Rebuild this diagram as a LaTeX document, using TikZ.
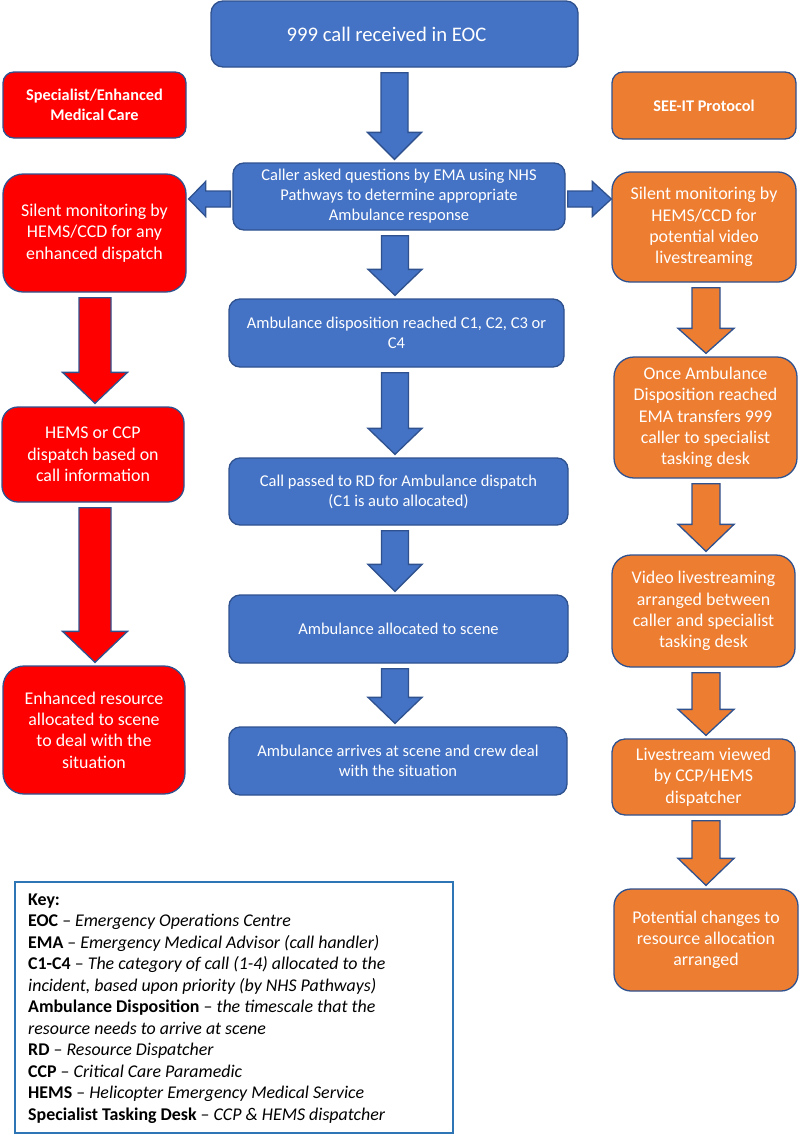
\documentclass[tikz,border=0pt]{standalone}
\usepackage{fontspec}
\setmainfont{Carlito}
\usetikzlibrary{calc}
\definecolor{cblue}{HTML}{4472C4}
\definecolor{cborder}{HTML}{2F528F}
\definecolor{cred}{HTML}{FF0000}
\definecolor{corange}{HTML}{ED7D31}
\definecolor{ckey}{HTML}{2E75B6}
\tikzset{
  box/.style={draw=cborder, line width=1.3pt, text=white, align=center, inner sep=0pt},
  bluebox/.style={box, fill=cblue, font=\fontsize{16.5pt}{20pt}\selectfont},
  redbox/.style={box, fill=cred, font=\fontsize{17.9pt}{21.3pt}\selectfont},
  orangebox/.style={box, fill=corange, font=\fontsize{17.9pt}{21.3pt}\selectfont},
  headfont/.style={font=\bfseries\fontsize{16.3pt}{20pt}\selectfont},
  bluearrow/.style={draw=cborder, line width=1.3pt, fill=cblue},
  redarrow/.style={draw=cborder, line width=1.3pt, fill=cred},
  orangearrow/.style={draw=cborder, line width=1.3pt, fill=corange},
  keyframe/.style={draw=ckey, line width=1.3pt, inner sep=0pt}
}
% vertical block arrow: [x shift]{from}{to}{shaft half}{head half}{head length}{style}
\newcommand\varr[7][0]{%
  \draw[#7] let \p1=($(#2.south)+(#1,5)$), \p2=($(#3.north)+(#1,-3)$) in
    (\x1-#4,\y1) -- (\x1+#4,\y1) -- (\x1+#4,\y2+#6) -- (\x1+#5,\y2+#6) --
    (\x1,\y2) -- (\x1-#5,\y2+#6) -- (\x1-#4,\y2+#6) -- cycle;}
\begin{document}
\begin{tikzpicture}[x=1pt,y=-1pt]
\useasboundingbox (0,0) rectangle (799,1135);
% boxes
\node[bluebox, minimum width=367pt, minimum height=66pt, rounded corners=12pt,
  font=\fontsize{20.7pt}{24pt}\selectfont] (top) at (394.5,34) {\hspace*{-16pt}999 call received in EOC};
\node[box, fill=cred, headfont, minimum width=183pt, minimum height=66pt, rounded corners=11pt]
  (spec) at (94.5,105) {Specialist/Enhanced\\Medical Care};
\node[box, fill=corange, headfont, minimum width=184pt, minimum height=67pt, rounded corners=11pt]
  (seeit) at (704,105.5) {SEE-IT Protocol};
\node[bluebox, minimum width=332pt, minimum height=67pt, rounded corners=11pt]
  (caller) at (399,196.5) {Caller asked questions by EMA using NHS\\Pathways to determine appropriate\\Ambulance response};
\node[redbox, minimum width=183pt, minimum height=118pt, rounded corners=20pt]
  (rsilent) at (94.5,233) {Silent monitoring by\\HEMS/CCD for any\\enhanced dispatch};
\node[orangebox, minimum width=184pt, minimum height=110pt, rounded corners=18pt]
  (osilent) at (704,227) {Silent monitoring by\\HEMS/CCD for\\potential video\\livestreaming};
\node[bluebox, minimum width=335pt, minimum height=68pt, rounded corners=11pt]
  (disp) at (396.5,333) {Ambulance disposition reached C1, C2, C3 or\\C4};
\node[redbox, minimum width=182pt, minimum height=95pt, rounded corners=16pt]
  (hems) at (93,454.5) {HEMS or CCP\\dispatch based on\\call information};
\node[orangebox, minimum width=183pt, minimum height=121pt, rounded corners=20pt]
  (once) at (705.5,417.5) {Once Ambulance\\Disposition reached\\EMA transfers 999\\caller to specialist\\tasking desk};
\node[bluebox, minimum width=339pt, minimum height=67pt, rounded corners=11pt]
  (rd) at (398.5,491.5) {Call passed to RD for Ambulance dispatch\\(C1 is auto allocated)};
\node[bluebox, minimum width=339pt, minimum height=68pt, rounded corners=11pt]
  (alloc) at (398.5,629) {Ambulance allocated to scene};
\node[orangebox, minimum width=183pt, minimum height=112pt, rounded corners=19pt]
  (video) at (703.5,611) {Video livestreaming\\arranged between\\caller and specialist\\tasking desk};
\node[redbox, minimum width=182pt, minimum height=128pt, rounded corners=21pt]
  (enh) at (94,730) {Enhanced resource\\allocated to scene\\to deal with the\\situation};
\node[bluebox, minimum width=338pt, minimum height=68pt, rounded corners=11pt]
  (arrives) at (398,761) {Ambulance arrives at scene and crew deal\\with the situation};
\node[orangebox, minimum width=183pt, minimum height=76pt, rounded corners=13pt]
  (live) at (703.5,777) {Livestream viewed\\by CCP/HEMS\\dispatcher};
\node[orangebox, minimum width=184pt, minimum height=102pt, rounded corners=17pt]
  (potential) at (706,940) {Potential changes to\\resource allocation\\arranged};
% key
\node[keyframe, minimum width=438pt, minimum height=251pt] (keybox) at (234,1007.5) {};
\node[anchor=base west, inner sep=0pt] (keytext) at (28,905) {\parbox[t]{420pt}{\raggedright
  \fontsize{17.9pt}{21.5pt}\selectfont
  \textbf{Key:}\\
  \textbf{EOC} -- \textit{Emergency Operations Centre}\\
  \textbf{EMA} -- \textit{Emergency Medical Advisor (call handler)}\\
  \textbf{C1-C4} -- \textit{The category of call (1-4) allocated to the}\\
  \textit{incident, based upon priority (by NHS Pathways)}\\
  \textbf{Ambulance Disposition} -- \textit{the timescale that the}\\
  \textit{resource needs to arrive at scene}\\
  \textbf{RD} -- \textit{Resource Dispatcher}\\
  \textbf{CCP} -- \textit{Critical Care Paramedic}\\
  \textbf{HEMS} -- \textit{Helicopter Emergency Medical Service}\\
  \textbf{Specialist Tasking Desk} -- \textit{CCP \& HEMS dispatcher}}};
% central arrows
\varr{top}{caller}{13.5pt}{27pt}{27pt}{bluearrow}
\varr[-4]{caller}{disp}{13.5pt}{27pt}{26pt}{bluearrow}
\varr[-1.5]{disp}{rd}{13.5pt}{27pt}{26pt}{bluearrow}
\varr[-3.5]{rd}{alloc}{13.5pt}{27pt}{27pt}{bluearrow}
\varr[-3.5]{alloc}{arrives}{13.5pt}{27pt}{26pt}{bluearrow}
% red arrows
\varr[0.5]{rsilent}{hems}{16pt}{32.5pt}{31pt}{redarrow}
\varr[2]{hems}{enh}{16pt}{32.5pt}{31pt}{redarrow}
% orange arrows
\varr[2]{osilent}{once}{14pt}{28pt}{25pt}{orangearrow}
\varr[0.5]{once}{video}{14pt}{28pt}{27pt}{orangearrow}
\varr[2.5]{video}{live}{14pt}{28pt}{26pt}{orangearrow}
\varr[2.5]{live}{potential}{14pt}{28pt}{27pt}{orangearrow}
% side arrows
\draw[bluearrow] let \p1=($(caller.west)+(-2,2.5)$), \p2=($(rsilent.east)+(2,0)$) in
  (\x1,\y1+8pt) -- (\x2+17pt,\y1+8pt) -- (\x2+17pt,\y1+17.5pt) -- (\x2,\y1) --
  (\x2+17pt,\y1-17.5pt) -- (\x2+17pt,\y1-8pt) -- (\x1,\y1-8pt) -- cycle;
\draw[bluearrow] let \p1=($(caller.east)+(2,2.5)$), \p2=($(osilent.west)+(0,0)$) in
  (\x1,\y1+8pt) -- (\x2-19pt,\y1+8pt) -- (\x2-19pt,\y1+17.5pt) -- (\x2,\y1) --
  (\x2-19pt,\y1-17.5pt) -- (\x2-19pt,\y1-8pt) -- (\x1,\y1-8pt) -- cycle;
\end{tikzpicture}
\end{document}
